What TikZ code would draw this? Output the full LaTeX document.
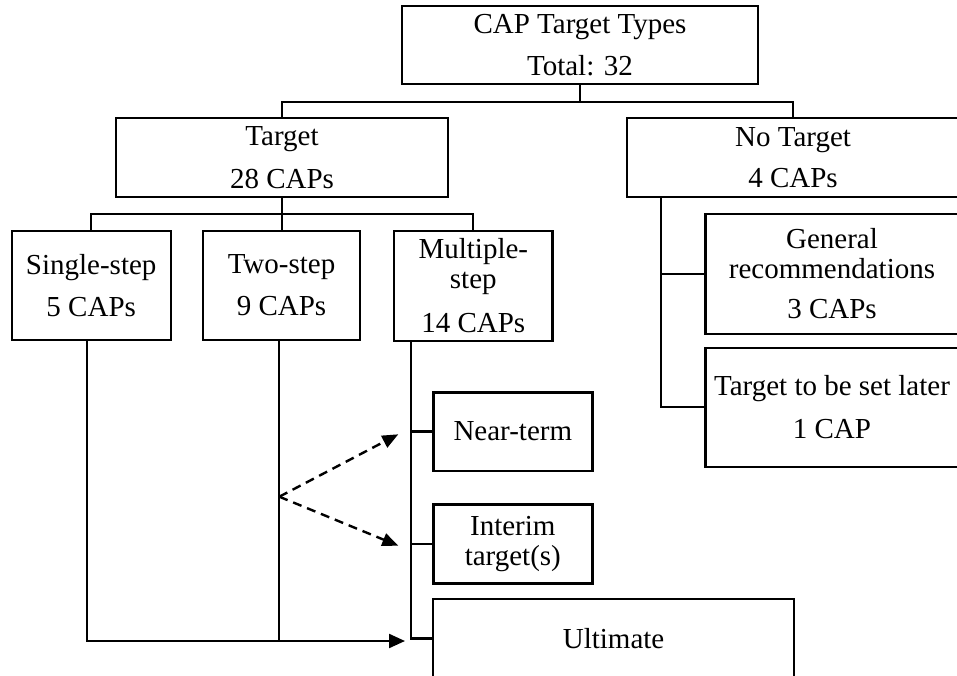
\documentclass[tikz,border=0pt]{standalone}
\usepackage{fontspec}
\setmainfont{Liberation Serif}
\usetikzlibrary{arrows.meta}
\begin{document}
\begin{tikzpicture}[x=1pt,y=-1pt,
  box/.style={draw, line width=2.4pt, rectangle, inner sep=0pt, align=center,
    font=\fontsize{29}{30}\selectfont},
  link/.style={line width=2.2pt},
  arrowlink/.style={link, -{Triangle[length=16pt,width=14pt]}},
  dashlink/.style={line width=2.4pt, dash pattern=on 9pt off 6pt,
    -{Triangle[length=16pt,width=13pt]}},
]
\useasboundingbox (0,0) rectangle (957,676);
\clip (0,0) rectangle (957,676);

% boxes
\node[box, minimum width=356pt, minimum height=78pt] (top) at (580,45)
  {CAP Target Types\\[11.7pt]Total: 32};
\node[box, minimum width=332pt, minimum height=79pt] (target) at (282,157.5)
  {Target\\[12.7pt]28 CAPs};
\node[box, minimum width=332pt, minimum height=79pt] (notarget) at (793,157.5)
  {No Target\\[11.7pt]4 CAPs};
\node[box, minimum width=159pt, minimum height=109pt] (single) at (91.2,285.3)
  {Single-step\\[12pt]5 CAPs};
\node[box, minimum width=157.5pt, minimum height=109pt] (two) at (281.5,285.3)
  {Two-step\\[12pt]9 CAPs};
\node[box, minimum width=158.7pt, minimum height=110pt] (multi) at (473.3,285.7)
  {Multiple-\\step\\[13.3pt]14 CAPs};
\node[box, minimum width=253pt, minimum height=120pt] (general) at (832,274)
  {General\\recommendations\\[10pt]3 CAPs};
\node[box, minimum width=253pt, minimum height=119pt] (later) at (832,407.2)
  {Target to be set later\\[12.7pt]1 CAP};
\node[box, minimum width=159pt, minimum height=78.4pt] (near) at (512.8,431.5)
  {Near-term};
\node[box, minimum width=159pt, minimum height=79pt] (interim) at (512.8,543.8)
  {Interim\\target(s)};
\node[box, minimum width=360.7pt, minimum height=79pt] (ultimate) at (613.6,638.5)
  {Ultimate};

% tree connectors
\coordinate (topbar) at (580,101.7);
\draw[link] (top.south) -- (topbar);
\draw[link] (target.north) |- (topbar) -| (notarget.north);

\coordinate (tgtbar) at (282,214);
\draw[link] (target.south) -- (tgtbar);
\draw[link] (single.north) |- (tgtbar) -| (multi.north);
\draw[link] (tgtbar) -- (tgtbar |- two.north);

% drops below the second-level boxes
\coordinate (sdrop) at ([xshift=-3.9pt]single.south);
\coordinate (tdrop) at ([xshift=-2.2pt]two.south);
\coordinate (mdrop) at ([xshift=-62.6pt]multi.south);
\coordinate (ndrop) at ([xshift=-132.3pt]notarget.south);
\coordinate (ulttip) at (405,641);

\draw[arrowlink] (sdrop) |- (ulttip);
\draw[link] (tdrop) -- (tdrop |- ulttip);

\draw[link] (mdrop) |- (ultimate.west);
\draw[link] (mdrop |- near.west) -- (near.west);
\draw[link] (mdrop |- interim.west) -- (interim.west);

\draw[link] (ndrop) |- (later.west);
\draw[link] (ndrop |- general.west) -- (general.west);

% dashed branches from the two-step line
\coordinate (fork) at (279.3,496.7);
\coordinate (neartip) at (398.3,434.3);
\coordinate (interimtip) at (398.3,545.7);
\draw[dashlink] (fork) -- (neartip);
\draw[dashlink] (fork) -- (interimtip);
\end{tikzpicture}
\end{document}
